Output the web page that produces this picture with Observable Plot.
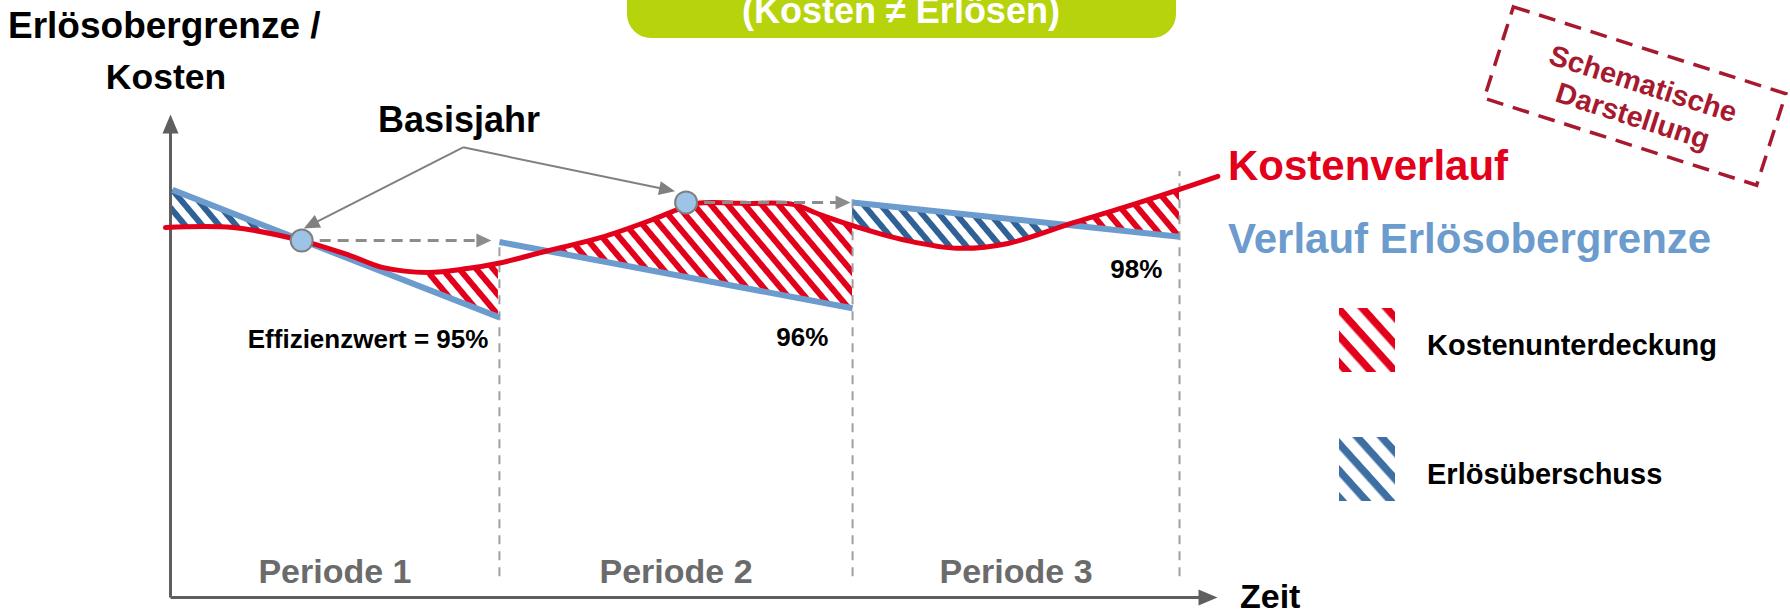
<!DOCTYPE html>
<html><head><meta charset="utf-8">
<script src="https://cdn.jsdelivr.net/npm/d3@7"></script>
<script src="https://cdn.jsdelivr.net/npm/@observablehq/plot@0.6"></script>
<style>
html,body{margin:0;padding:0;background:#fff;}
#chart{position:relative;width:1790px;height:616px;overflow:hidden;}
</style></head><body>
<svg width="0" height="0" style="position:absolute">
<defs>
<pattern id="hatchRed" patternUnits="userSpaceOnUse" width="13" height="13" patternTransform="rotate(50)"><rect width="13" height="6" fill="#e2001a"/></pattern>
<pattern id="hatchBlue" patternUnits="userSpaceOnUse" width="13" height="13" patternTransform="rotate(50)"><rect width="13" height="6" fill="#2f6196"/></pattern>
<pattern id="legRed" patternUnits="userSpaceOnUse" width="18" height="18" patternTransform="rotate(48)"><rect width="18" height="7.5" fill="#e2001a"/></pattern>
<pattern id="legBlue" patternUnits="userSpaceOnUse" width="18" height="18" patternTransform="rotate(48)"><rect width="18" height="7.5" fill="#3d6fa3"/></pattern>
</defs></svg>
<div id="chart"></div>
<script>
// ---- data (schematic values) ----
const redX = [-0.5, 6.2, 13.0, 17.8, 21.1, 25.5, 29.4, 32.5, 37.4, 42.6, 47.6, 50.5, 52.2, 57.0, 61.7, 64.1, 67.6, 73.0, 78.0, 83.0, 89.5, 94.4, 100.3, 103.8];
const redY = [76.6, 76.6, 73.9, 70.8, 68.3, 67.3, 68.1, 69.2, 71.8, 74.5, 78.1, 80.5, 81.6, 81.6, 81.4, 79.5, 77.0, 73.9, 72.3, 73.3, 77.6, 80.7, 84.7, 87.2];
const blueSeg = ["P1", "P1", "P2", "P2", "P3", "P3"];
const blueX = [0.2, 32.6, 32.6, 67.6, 67.6, 100];
const blueY = [84.4, 58.0, 73.6, 59.9, 81.8, 74.7];
const periodNames = ["Periode 1", "Periode 2", "Periode 3"];
const periodStart = [0, 32.6, 67.6];
const periodEnd = [32.6, 67.6, 100];
const dividerTop = [73.6, 83.4, 88.2];
const effLabels = ["Effizienzwert = 95%", "96%", "98%"];
const baseYearX = [13.0, 51.1];
const baseYearY = [73.9, 81.8];
const hatchKind = ["Erlösüberschuss", "Kostenunterdeckung", "Kostenunterdeckung", "Erlösüberschuss", "Kostenunterdeckung"];
const hatchFrom = [-0.5, 25.5, 37.4, 67.6, 89.5];
const hatchTo = [13.0, 32.5, 67.6, 89.5, 100.3];
const hatchPeriod = [0, 0, 1, 2, 2];
const legendLabels = ["Kostenunterdeckung", "Erlösüberschuss"];

// ---- derived tables ----
const red = redX.map((x, i) => ({x, y: redY[i]}));
const blue = blueX.map((x, i) => ({seg: blueSeg[i], x, y: blueY[i]}));
function blueAt(p, x) {
  const x0 = blueX[2*p], x1 = blueX[2*p+1], y0 = blueY[2*p], y1 = blueY[2*p+1];
  return y0 + (y1 - y0) * (x - x0) / (x1 - x0);
}
const hatchRows = [];
hatchKind.forEach((k, h) => {
  red.forEach(r => { if (r.x >= hatchFrom[h] - 1e-9 && r.x <= hatchTo[h] + 1e-9) hatchRows.push({h, kind: k, x: r.x, red: r.y, blue: blueAt(hatchPeriod[h], r.x)}); });
});

// scales mirrored from the plot (used only for arrowhead geometry)
const W = 1790, H = 616, mL = 170, mR = 611, mT = 114, mB = 19;
const xs = d3.scaleLinear([0, 100], [mL, W - mR]);
const ys = d3.scaleLinear([0, 100], [H - mB, mT]);
function arrow(id, fx, fy, tx, ty, L, Wd) {
  const X1 = xs(fx), Y1 = ys(fy), X2 = xs(tx), Y2 = ys(ty);
  const len = Math.hypot(X2 - X1, Y2 - Y1), ux = (X2 - X1) / len, uy = (Y2 - Y1) / len;
  const bx = X2 - ux * L, by = Y2 - uy * L;
  const head = [[X2, Y2], [bx - uy * Wd, by + ux * Wd], [bx + uy * Wd, by - ux * Wd]]
    .map(([px, py]) => ({id, x: xs.invert(px), y: ys.invert(py)}));
  const shaft = {x1: fx, y1: fy, x2: xs.invert(X2 - ux * L * 0.7), y2: ys.invert(Y2 - uy * L * 0.7)};
  return {head, shaft};
}
const yAxisArrow = arrow("ya", 0, 0, 0, 100, 19, 8);
const xAxisArrow = arrow("xa", 0, 0, xs.invert(1217), 0, 19, 8);
const dash1 = arrow("d1", baseYearX[0], baseYearY[0], 31.8, baseYearY[0], 15, 7);
const dash2 = arrow("d2", baseYearX[1], baseYearY[1], 67.4, baseYearY[1], 15, 7);
const apex = {x: 29.0, y: 93.2};
const bj1 = arrow("b1", apex.x, apex.y, 13.2, 76.4, 16, 7);
const bj2 = arrow("b2", apex.x, apex.y, 50.0, 84.1, 16, 7);

const RED = "#e2001a", BLUE = "#6c9bcd", AXIS = "#5f5f5f", DASH = "#8c8c8c";

const plot = Plot.plot({
  width: W, height: H,
  marginLeft: mL, marginRight: mR, marginTop: mT, marginBottom: mB,
  x: {domain: [0, 100], axis: null},
  y: {domain: [0, 100], axis: null},
  style: {fontFamily: "'Liberation Sans', Arial, sans-serif", background: "white", overflow: "visible"},
  marks: [
    Plot.areaY(hatchRows.filter(d => d.kind === "Kostenunterdeckung"), {x: "x", y1: "red", y2: "blue", z: "h", fill: "url(#hatchRed)", curve: "catmull-rom", clip: true}),
    Plot.areaY(hatchRows.filter(d => d.kind === "Erlösüberschuss"), {x: "x", y1: "red", y2: "blue", z: "h", fill: "url(#hatchBlue)", curve: "catmull-rom", clip: true}),
    Plot.ruleX([0, 1, 2], {x: i => periodEnd[i], y1: () => 4.3, y2: i => dividerTop[i], stroke: "#a0a0a0", strokeWidth: 2, strokeDasharray: "9,7"}),
    // axes
    Plot.link([yAxisArrow.shaft, xAxisArrow.shaft], {x1: "x1", y1: "y1", x2: "x2", y2: "y2", stroke: AXIS, strokeWidth: 3}),
    Plot.line([...yAxisArrow.head, ...xAxisArrow.head], {x: "x", y: "y", z: "id", fill: AXIS, stroke: "none", curve: "linear-closed"}),
    // revenue cap and cost curves
    Plot.line(blue, {x: "x", y: "y", z: "seg", stroke: BLUE, strokeWidth: 6, strokeLinecap: "butt"}),
    Plot.line(red, {x: "x", y: "y", stroke: RED, strokeWidth: 5, curve: "catmull-rom"}),
    // base year carry-over arrows
    Plot.link([dash1.shaft, dash2.shaft], {x1: "x1", y1: "y1", x2: "x2", y2: "y2", stroke: DASH, strokeWidth: 3, strokeDasharray: "11,7"}),
    Plot.line([...dash1.head, ...dash2.head], {x: "x", y: "y", z: "id", fill: DASH, stroke: "none", curve: "linear-closed"}),
    Plot.link([bj1.shaft, bj2.shaft], {x1: "x1", y1: "y1", x2: "x2", y2: "y2", stroke: "#808080", strokeWidth: 2}),
    Plot.line([...bj1.head, ...bj2.head], {x: "x", y: "y", z: "id", fill: "#808080", stroke: "none", curve: "linear-closed"}),
    Plot.dot([0, 1], {x: i => baseYearX[i], y: i => baseYearY[i], r: 11, fill: "#9dc3e6", stroke: "#7f7f7f", strokeWidth: 2}),
    // labels
    Plot.text(["Basisjahr"], {x: () => 28.6, y: () => 98.7, text: d => d, fontSize: 36, fontWeight: "bold", fill: "#000"}),
    Plot.text(periodNames, {x: (d, i) => (periodStart[i] + periodEnd[i]) / 2, y: () => 5.3, text: d => d, fontSize: 34, fontWeight: "bold", fill: "#6b6b6b"}),
    Plot.text(effLabels, {x: (d, i) => [31.5, 65.2, 98.3][i], y: (d, i) => [53.3, 53.7, 67.8][i], text: d => d, textAnchor: "end", fontSize: 26, fontWeight: "bold", fill: "#000"})
  ]
});
document.getElementById("chart").appendChild(plot);

// ---- annotations (layout elements) ----
const svg = d3.select(plot);
const g = svg.append("g").attr("font-family", "'Liberation Sans', Arial, sans-serif").attr("font-weight", "bold").attr("text-anchor", "start");
// title banner
g.append("rect").attr("x", 627).attr("y", -30).attr("width", 549).attr("height", 68).attr("rx", 24).attr("fill", "#b6d30c");
g.append("text").attr("x", 901).attr("y", 23).attr("text-anchor", "middle").attr("font-size", 36).attr("fill", "#fff").text("(Kosten ≠ Erlösen)");
// axis titles
g.append("text").attr("x", 8).attr("y", 38).attr("font-size", 37).attr("fill", "#000").text("Erlösobergrenze /");
g.append("text").attr("x", 166).attr("y", 89).attr("text-anchor", "middle").attr("font-size", 35.5).attr("fill", "#000").text("Kosten");
g.append("text").attr("x", 1240).attr("y", 608).attr("font-size", 34).attr("fill", "#000").text("Zeit");
// series labels
g.append("text").attr("x", 1228).attr("y", 180).attr("font-size", 42).attr("fill", RED).text("Kostenverlauf");
g.append("text").attr("x", 1228).attr("y", 253).attr("font-size", 42).attr("fill", BLUE).text("Verlauf Erlösobergrenze");
// legend
const legFill = ["url(#legRed)", "url(#legBlue)"], legTop = [308, 437], legBase = [355, 484];
legendLabels.forEach((t, i) => {
  g.append("rect").attr("x", 1339).attr("y", legTop[i]).attr("width", 56).attr("height", 64).attr("fill", legFill[i]);
  g.append("text").attr("x", 1427).attr("y", legBase[i]).attr("font-size", 29).attr("fill", "#000").text(t);
});
// stamp
const st = g.append("g").attr("transform", "translate(1635,96) rotate(17.7)");
st.append("rect").attr("x", -143).attr("y", -48).attr("width", 286).attr("height", 96).attr("fill", "none").attr("stroke", "#a6192e").attr("stroke-width", 3.5).attr("stroke-dasharray", "17,10");
st.append("text").attr("x", 4).attr("y", -14.5).attr("dy", "0.35em").attr("text-anchor", "middle").attr("font-size", 29).attr("fill", "#a6192e").text("Schematische");
st.append("text").attr("x", 4).attr("y", 19.4).attr("dy", "0.35em").attr("text-anchor", "middle").attr("font-size", 29).attr("fill", "#a6192e").text("Darstellung");
</script>
</body></html>
